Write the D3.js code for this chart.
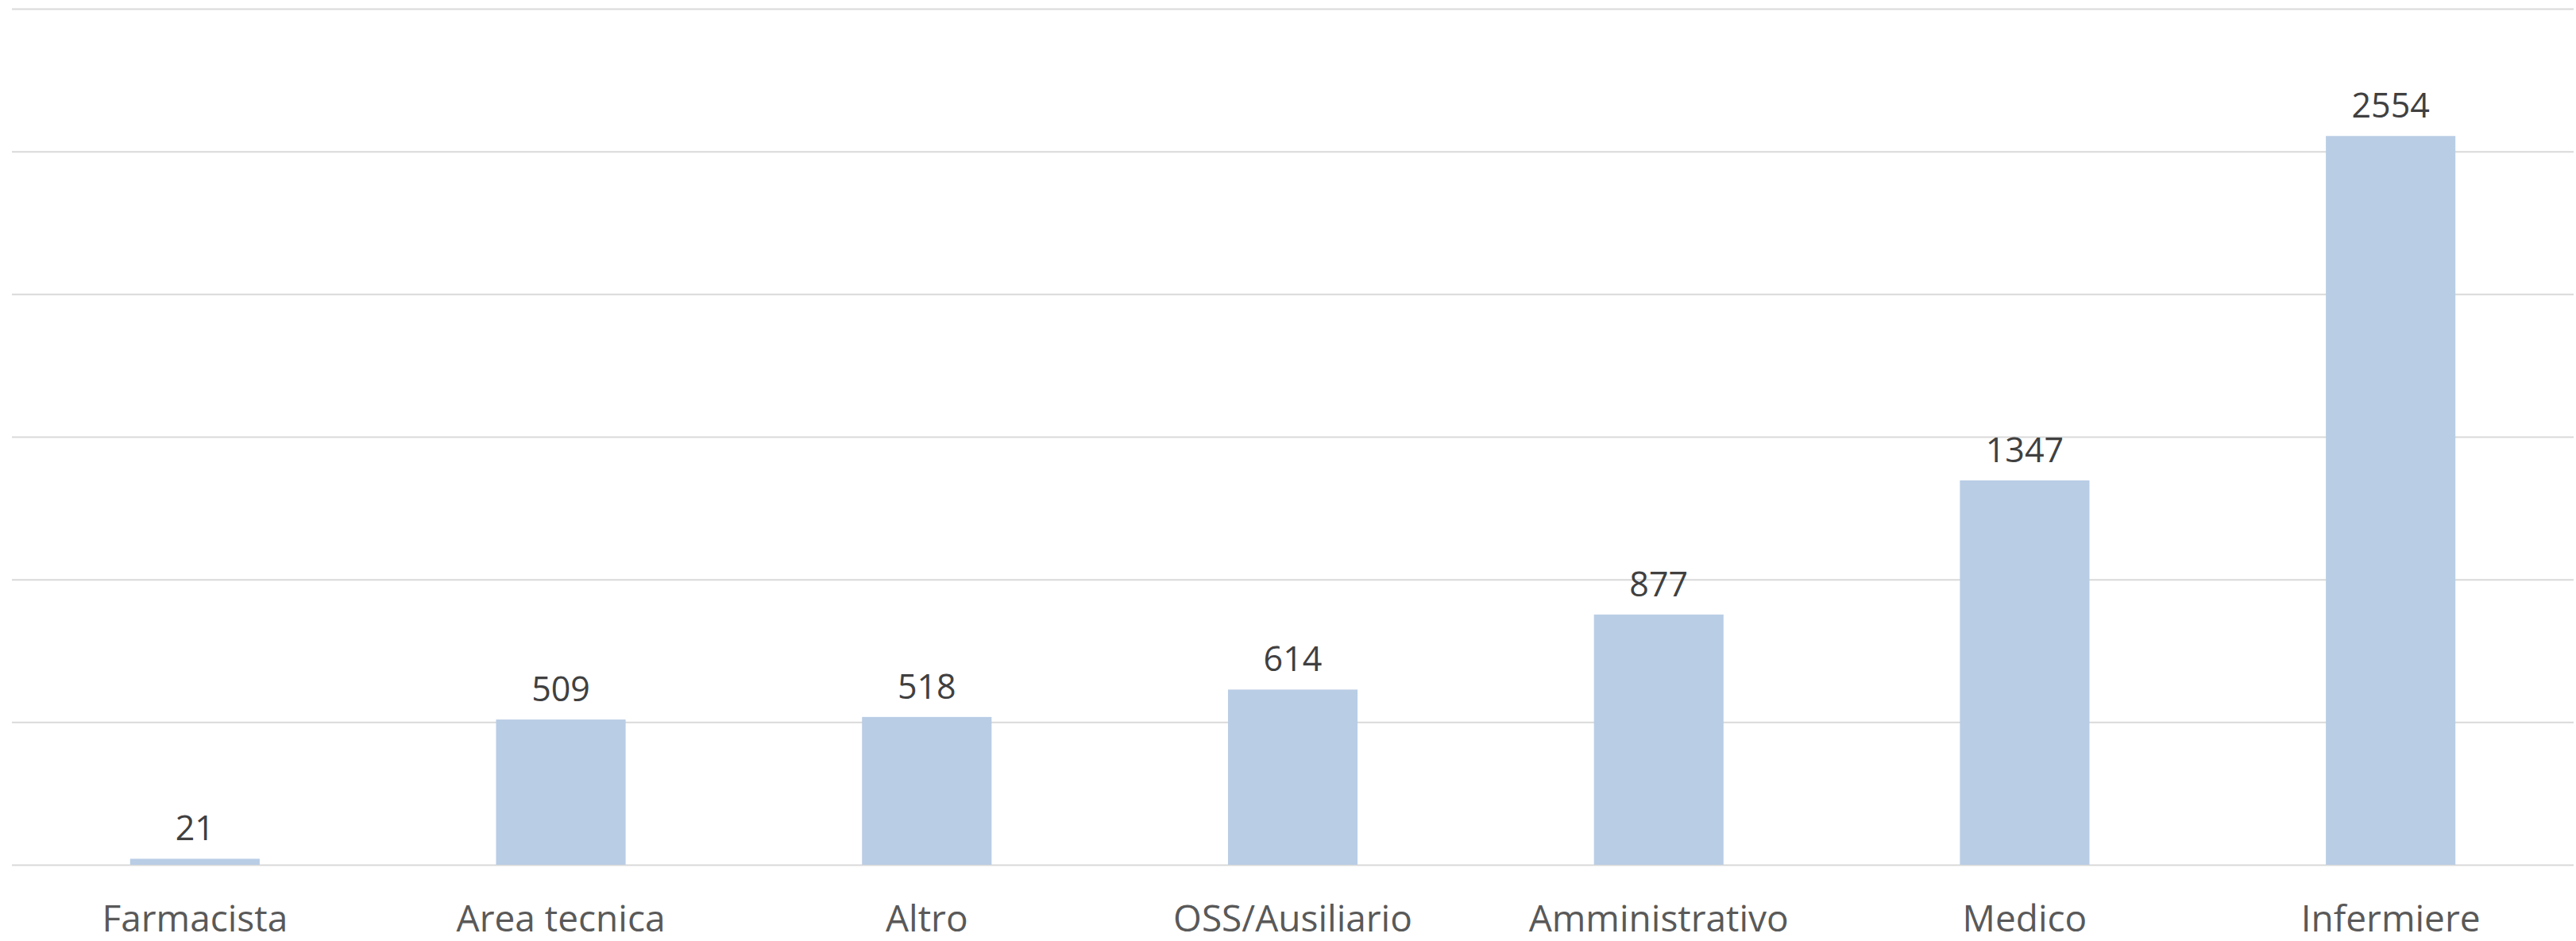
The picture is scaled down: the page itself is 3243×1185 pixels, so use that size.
<!DOCTYPE html>
<html>
<head>
<meta charset="utf-8">
<script src="https://cdn.jsdelivr.net/npm/d3@7"></script>
<style>
	body { margin: 0; background: #fff; }
	text { font-family: "Open Sans", sans-serif; }
</style>
</head>
<body>
<svg id="svg" width="3243" height="1185"></svg>
<script>
var categories = ["Farmacista", "Area tecnica", "Altro", "OSS/Ausiliario", "Amministrativo", "Medico", "Infermiere"];
var values = [21, 509, 518, 614, 877, 1347, 2554];
var gridTicks = [0, 500, 1000, 1500, 2000, 2500, 3000];

var svg = d3.select("svg"),
	width = +svg.attr("width"),
	height = +svg.attr("height");

var margin = { top: 11, right: 3, bottom: 96, left: 15 };

var x = d3.scaleBand()
	.domain(categories)
	.range([margin.left, width - margin.right])
	.paddingInner(0.646)
	.paddingOuter(0.323);

var y = d3.scaleLinear()
	.domain([0, 3000])
	.range([height - margin.bottom, margin.top]);

// gridlines
svg.append("g")
	.attr("transform", "translate(" + margin.left + ",0)")
	.call(d3.axisLeft(y)
		.tickValues(gridTicks)
		.tickSize(-(width - margin.left - margin.right))
		.tickFormat(""))
	.call(function (g) { g.select(".domain").remove(); })
	.selectAll("line")
	.style("stroke", "#d9d9d9")
	.style("stroke-width", "2px");

var data = categories.map(function (c, i) { return { cat: c, value: values[i] }; });

svg.append("g")
	.selectAll("rect")
	.data(data)
	.enter().append("rect")
	.attr("x", function (d) { return x(d.cat); })
	.attr("width", x.bandwidth())
	.attr("y", function (d) { return y(d.value); })
	.attr("height", function (d) { return y(0) - y(d.value); })
	.style("fill", "#b9cde5");

// value labels
svg.append("g")
	.selectAll("text")
	.data(data)
	.enter().append("text")
	.attr("x", function (d) { return x(d.cat) + x.bandwidth() / 2; })
	.attr("y", function (d) { return y(d.value) - 23; })
	.attr("text-anchor", "middle")
	.style("font-size", "43px")
	.style("fill", "#404040")
	.text(function (d) { return d.value; });

// category axis
var xAxis = svg.append("g")
	.attr("transform", "translate(0," + y(0) + ")")
	.call(d3.axisBottom(x).tickSize(0).tickPadding(0));
xAxis.select(".domain").remove();
xAxis.selectAll("text")
	.attr("dy", null)
	.attr("y", 84)
	.style("font-size", "46px")
	.style("font-family", "'Open Sans', sans-serif")
	.style("fill", "#595959");
</script>
</body>
</html>
